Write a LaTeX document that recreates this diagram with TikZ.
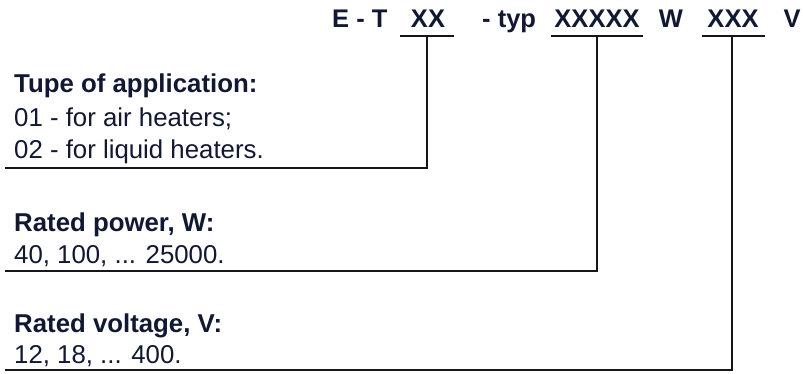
\documentclass[tikz,border=0pt]{standalone}
\usepackage{fontspec}
\setmainfont{Liberation Sans}
\definecolor{ink}{RGB}{16,24,50}
\definecolor{rulec}{RGB}{22,22,28}
\begin{document}
\begin{tikzpicture}[x=1pt,y=-1pt,
  code/.style={inner sep=0pt,anchor=base,font=\fontsize{25.5}{30}\selectfont\bfseries,text=ink},
  head/.style={inner sep=0pt,anchor=base west,font=\fontsize{25.8}{30}\selectfont\bfseries,text=ink},
  body/.style={inner sep=0pt,anchor=base west,font=\fontsize{25.8}{30}\selectfont,text=ink},
  ln/.style={draw=rulec,line width=2.8pt}]
\useasboundingbox[fill=white] (0,0) rectangle (803,374);

% code line
\node[code,anchor=base west] (et) at (332,28) {E - T};
\node[code] (xx) at (428,28) {XX};
\node[code,anchor=base west] (typ) at (482,28) {- typ};
\node[code] (x5) at (597,28) {XXXXX};
\node[code] (w) at (671,28) {W};
\node[code] (x3) at (733,28) {XXX};
\node[code] (v) at (792,28) {V};

% underline ends and branch points
\coordinate (u1l) at (400,36); \coordinate (u1r) at (454,36); \coordinate (u1m) at (427,36);
\coordinate (u2l) at (551,36); \coordinate (u2r) at (643,36); \coordinate (u2m) at (597,36);
\coordinate (u3l) at (702,36); \coordinate (u3r) at (765,36); \coordinate (u3m) at (732,36);
\coordinate (b1) at (5,168);
\coordinate (b2) at (5,271);
\coordinate (b3) at (5,370);

% descriptions
\node[head] (h1) at (14,93) {Tupe of application:};
\node[body] (t11) at (14,127) {01 - for air heaters;};
\node[body] (t12) at (14,159) {02 - for liquid heaters.};
\node[head] (h2) at (14,232) {Rated power, W:};
\node[body] (t2) at (14,263) {40, 100, ... 25000.};
\node[head] (h3) at (14,332) {Rated voltage, V:};
\node[body] (t3) at (14,363) {12, 18, ... 400.};

% connectors
\draw[ln] (u1l) -- (u1r);
\draw[ln] (u2l) -- (u2r);
\draw[ln] (u3l) -- (u3r);
\draw[ln] (u1m) |- (b1);
\draw[ln] (u2m) |- (b2);
\draw[ln] (u3m) |- (b3);
\end{tikzpicture}
\end{document}
